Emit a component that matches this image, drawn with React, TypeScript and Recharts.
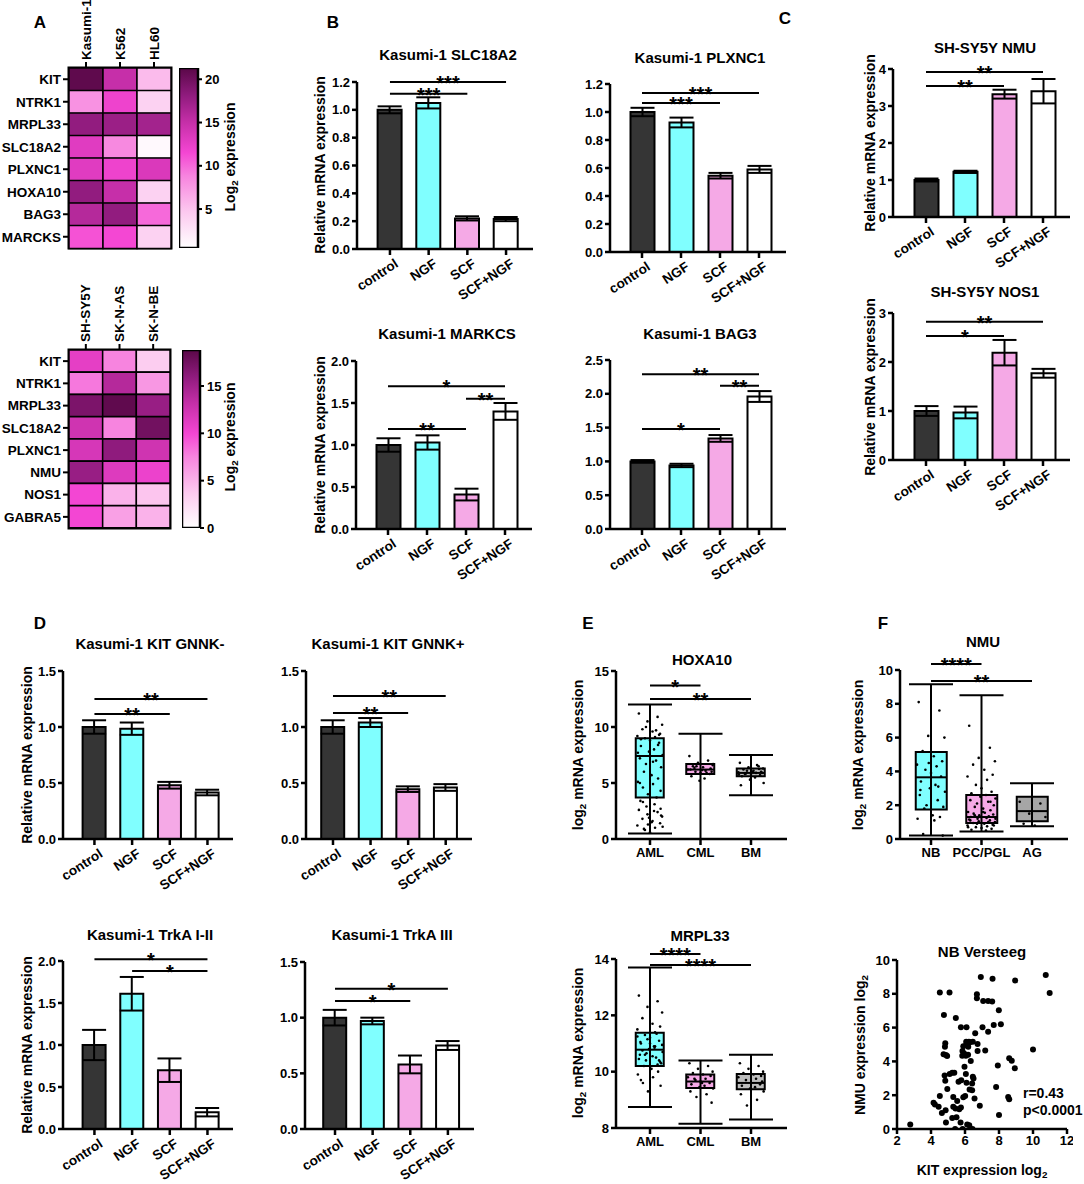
import React from 'react';
import {
  BarChart, Bar, XAxis, YAxis, ErrorBar, ReferenceLine, ReferenceArea,
  ComposedChart, Scatter, ScatterChart, Cell,
} from 'recharts';

const FONT = '"Liberation Sans", Arial, Helvetica, sans-serif';

// ---------- Panel A: heatmaps ----------
const hm1Rows = ['KIT', 'NTRK1', 'MRPL33', 'SLC18A2', 'PLXNC1', 'HOXA10', 'BAG3', 'MARCKS'];
const hm1Cols = ['Kasumi-1', 'K562', 'HL60'];
const hm1Kasumi = [21, 8, 18, 13, 13, 18, 16, 11];
const hm1K562 = [15, 12, 17.5, 8.5, 12, 15, 18, 11.5];
const hm1HL60 = [5.5, 4, 17, 1, 13.5, 4, 10, 4];
const hm1Ticks = [5, 10, 15, 20];

const hm2Rows = ['KIT', 'NTRK1', 'MRPL33', 'SLC18A2', 'PLXNC1', 'NMU', 'NOS1', 'GABRA5'];
const hm2Cols = ['SH-SY5Y', 'SK-N-AS', 'SK-N-BE'];
const hm2SHSY5Y = [11, 8, 17, 12.5, 12, 15.5, 10, 10];
const hm2SKNAS = [7.5, 14, 18.5, 7.5, 16, 11.5, 5, 6];
const hm2SKNBE = [3.5, 6.5, 15.5, 17.5, 12.5, 10.5, 4, 5];
const hm2Ticks = [0, 5, 10, 15];

// ---------- Bar panels ----------
const treatments = ['control', 'NGF', 'SCF', 'SCF+NGF'];
const treatmentColors = ['#353535', '#80ffff', '#f5a9e6', '#ffffff'];

const slc18a2Mean = [1.0, 1.05, 0.22, 0.215];
const slc18a2Err = [0.025, 0.04, 0.015, 0.015];
const plxnc1Mean = [1.0, 0.925, 0.545, 0.59];
const plxnc1Err = [0.03, 0.035, 0.02, 0.025];
const marcksMean = [1.0, 1.03, 0.41, 1.4];
const marcksErr = [0.08, 0.085, 0.07, 0.1];
const bag3Mean = [1.0, 0.94, 1.34, 1.96];
const bag3Err = [0.02, 0.025, 0.05, 0.08];
const nmuMean = [1.0, 1.22, 3.32, 3.4];
const nmuErr = [0.04, 0.03, 0.12, 0.33];
const nos1Mean = [1.0, 0.97, 2.19, 1.77];
const nos1Err = [0.1, 0.12, 0.26, 0.09];
const gnnkMinusMean = [1.0, 0.985, 0.48, 0.415];
const gnnkMinusErr = [0.06, 0.055, 0.03, 0.025];
const gnnkPlusMean = [1.0, 1.04, 0.445, 0.46];
const gnnkPlusErr = [0.06, 0.04, 0.025, 0.03];
const trkA12Mean = [1.0, 1.61, 0.7, 0.2];
const trkA12Err = [0.18, 0.2, 0.14, 0.05];
const trkA3Mean = [1.0, 0.97, 0.58, 0.75];
const trkA3Err = [0.07, 0.03, 0.08, 0.04];

const ticks12 = [0, 0.2, 0.4, 0.6, 0.8, 1.0, 1.2];
const ticks20 = [0, 0.5, 1.0, 1.5, 2.0];
const ticks25 = [0, 0.5, 1.0, 1.5, 2.0, 2.5];
const ticks15 = [0, 0.5, 1.0, 1.5];
const ticks4 = [0, 1, 2, 3, 4];
const ticks3 = [0, 1, 2, 3];

type Sig = { a: string; b: string; y: number; t: string };
const slc18a2Sig: Sig[] = [
  { a: 'control', b: 'SCF', y: 1.115, t: '***' },
  { a: 'control', b: 'SCF+NGF', y: 1.2, t: '***' },
];
const plxnc1Sig: Sig[] = [
  { a: 'control', b: 'SCF', y: 1.065, t: '***' },
  { a: 'control', b: 'SCF+NGF', y: 1.136, t: '***' },
];
const marcksSig: Sig[] = [
  { a: 'control', b: 'SCF', y: 1.19, t: '**' },
  { a: 'SCF', b: 'SCF+NGF', y: 1.55, t: '**' },
  { a: 'control', b: 'SCF+NGF', y: 1.7, t: '*' },
];
const bag3Sig: Sig[] = [
  { a: 'control', b: 'SCF', y: 1.48, t: '*' },
  { a: 'SCF', b: 'SCF+NGF', y: 2.12, t: '**' },
  { a: 'control', b: 'SCF+NGF', y: 2.29, t: '**' },
];
const nmuSig: Sig[] = [
  { a: 'control', b: 'SCF', y: 3.54, t: '**' },
  { a: 'control', b: 'SCF+NGF', y: 3.92, t: '**' },
];
const nos1Sig: Sig[] = [
  { a: 'control', b: 'SCF', y: 2.53, t: '*' },
  { a: 'control', b: 'SCF+NGF', y: 2.82, t: '**' },
];
const gnnkMinusSig: Sig[] = [
  { a: 'control', b: 'SCF', y: 1.116, t: '**' },
  { a: 'control', b: 'SCF+NGF', y: 1.25, t: '**' },
];
const gnnkPlusSig: Sig[] = [
  { a: 'control', b: 'SCF', y: 1.125, t: '**' },
  { a: 'control', b: 'SCF+NGF', y: 1.277, t: '**' },
];
const trkA12Sig: Sig[] = [
  { a: 'control', b: 'SCF+NGF', y: 2.02, t: '*' },
  { a: 'NGF', b: 'SCF+NGF', y: 1.88, t: '*' },
];
const trkA3Sig: Sig[] = [
  { a: 'control', b: 'SCF', y: 1.15, t: '*' },
  { a: 'control', b: 'SCF+NGF', y: 1.26, t: '*' },
];

// ---------- Box panels ----------
const leukGroups = ['AML', 'CML', 'BM'];
const leukColors = ['#80ffff', '#f5a9e6', '#bdbdbd'];
const hoxMin = [0.5, 0, 3.9];
const hoxQ1 = [3.7, 5.8, 5.6];
const hoxMed = [7.4, 6.2, 5.9];
const hoxQ3 = [9.0, 6.7, 6.3];
const hoxMax = [12.0, 9.4, 7.5];
const hoxAmlDots = [11.2, 10.9, 10.5, 10.2, 9.8, 9.6, 9.4, 9.2, 9.1, 9.0, 8.8, 8.6, 8.3, 8.0, 7.8, 7.5, 7.2, 7.0, 6.7, 6.4, 6.0, 5.7, 5.4, 5.1, 4.9, 4.6, 4.3, 4.0, 3.7, 3.4, 3.1, 2.9, 2.6, 2.4, 2.2, 2.0, 1.8, 1.6, 1.4, 1.2, 1.0, 0.8, 0.6, 9.3, 8.9, 2.5, 1.9, 1.1, 5.0, 9.7, 10.0, 2.1, 0.9, 1.5, 8.4, 7.7, 6.9, 3.3, 2.7, 1.3];
const hoxCmlDots = [7.4, 7.0, 6.8, 6.6, 6.5, 6.4, 6.3, 6.2, 6.1, 6.0, 5.9, 5.8, 5.6, 5.4, 5.2, 6.7, 6.2, 5.9, 6.5, 6.0, 6.35, 6.15];
const hoxBmDots = [6.8, 6.5, 6.4, 6.3, 6.2, 6.1, 6.0, 5.95, 5.9, 5.85, 5.8, 5.7, 5.6, 5.5, 5.3, 5.0, 4.8, 6.6, 6.1, 5.9, 5.8, 6.0, 6.25, 5.75];
const hoxSig: Sig[] = [
  { a: 'AML', b: 'CML', y: 13.7, t: '*' },
  { a: 'AML', b: 'BM', y: 12.5, t: '**' },
];

const mrpMin = [8.75, 8.15, 8.3];
const mrpQ1 = [10.2, 9.42, 9.38];
const mrpMed = [10.78, 9.65, 9.6];
const mrpQ3 = [11.38, 9.9, 9.92];
const mrpMax = [13.7, 10.4, 10.6];
const mrpAmlDots = [12.7, 12.5, 12.3, 12.1, 11.9, 11.7, 11.6, 11.5, 11.4, 11.3, 11.2, 11.1, 11.0, 10.9, 10.8, 10.7, 10.6, 10.5, 10.4, 10.3, 10.2, 10.1, 10.0, 9.9, 9.8, 9.6, 9.5, 9.3, 11.35, 11.05, 10.85, 10.65, 10.45, 10.25, 11.15, 10.95, 10.75, 10.55, 10.35, 11.25, 10.9, 10.6, 11.0, 10.4, 9.7];
const mrpCmlDots = [10.3, 10.2, 10.1, 10.0, 9.95, 9.9, 9.85, 9.8, 9.75, 9.7, 9.65, 9.6, 9.55, 9.5, 9.45, 9.4, 9.3, 9.2, 9.1, 8.9, 9.75, 9.6];
const mrpBmDots = [10.3, 10.2, 10.1, 10.0, 9.95, 9.9, 9.85, 9.8, 9.75, 9.7, 9.6, 9.55, 9.5, 9.45, 9.4, 9.3, 9.2, 9.0, 8.8, 9.65];
const mrpSig: Sig[] = [
  { a: 'AML', b: 'CML', y: 14.18, t: '****' },
  { a: 'AML', b: 'BM', y: 13.79, t: '****' },
];

const nbGroups = ['NB', 'PCC/PGL', 'AG'];
const nbColors = ['#80ffff', '#f5a9e6', '#a6a6a6'];
const nmuBoxMin = [0.2, 0.45, 0.75];
const nmuBoxQ1 = [1.75, 0.95, 1.05];
const nmuBoxMed = [3.65, 1.3, 1.65];
const nmuBoxQ3 = [5.15, 2.6, 2.5];
const nmuBoxMax = [9.15, 8.5, 3.3];
const nmuNbDots = [8.1, 7.6, 6.1, 6.0, 5.2, 4.9, 4.6, 4.4, 4.3, 4.1, 3.9, 3.7, 3.4, 3.2, 3.0, 2.8, 2.6, 2.3, 2.0, 1.9, 1.8, 1.4, 1.3, 1.2, 1.1, 0.3, 0.2, 4.5, 3.1, 2.9];
const nmuPccDots = [6.7, 5.4, 4.8, 4.6, 4.4, 4.1, 3.8, 3.7, 3.5, 3.2, 3.0, 2.8, 2.7, 2.6, 2.5, 2.4, 2.3, 2.2, 2.1, 2.0, 1.9, 1.8, 1.7, 1.6, 1.55, 1.5, 1.45, 1.4, 1.35, 1.3, 1.25, 1.2, 1.15, 1.1, 1.05, 1.0, 0.95, 0.9, 0.85, 0.8, 0.75, 0.7, 0.65, 0.6, 0.55, 0.5, 1.3, 1.2, 1.1, 1.0, 0.9, 0.8, 1.4, 1.6, 2.2, 0.7];
const nmuAgDots = [2.2, 2.1, 1.5, 1.3, 0.9, 0.8];
const nmuBoxSig: Sig[] = [
  { a: 'NB', b: 'PCC/PGL', y: 10.36, t: '****' },
  { a: 'NB', b: 'AG', y: 9.35, t: '**' },
];

const jitter = [-0.22, 0.15, -0.05, 0.24, -0.15, 0.05, 0.2, -0.25, 0.1, -0.1, 0.0, 0.18, -0.18, 0.08, -0.02, 0.25, -0.2, 0.12, -0.08, 0.22, -0.12, 0.03, 0.16, -0.24, 0.06, -0.14, 0.21, -0.04, 0.13, -0.19, 0.09, -0.07];

// ---------- Scatter (NB Versteeg) ----------
const kitExpr = [2.78, 4.52, 4.76, 5.46, 5.09, 6.93, 7.62, 8.95, 10.75, 10.98, 6.7, 6.7, 7.07, 7.36, 7.6, 7.99, 7.69, 8.11, 7.03, 7.36, 5.76, 6.09, 6.6, 6.07, 6.23, 6.09, 6.29, 6.46, 6.74, 6.19, 5.9, 5.85, 5.95, 6.74, 7.19, 6.05, 5.84, 6.18, 6.34, 4.84, 4.82, 4.74, 4.88, 4.95, 10.0, 8.6, 8.75, 7.93, 8.93, 5.97, 5.25, 5.37, 5.1, 4.8, 6.05, 6.46, 6.5, 5.78, 5.62, 4.84, 4.96, 6.09, 6.42, 6.27, 6.42, 7.83, 6.01, 5.9, 6.56, 4.52, 5.31, 5.54, 4.15, 4.23, 4.45, 4.86, 4.64, 5.31, 5.44, 5.66, 5.76, 6.87, 8.54, 8.6, 8.0, 4.88, 5.25, 5.5, 5.74, 6.13, 6.25, 5.42, 5.86, 6.44];
const nmuExpr = [0.26, 8.08, 6.75, 6.57, 8.08, 8.99, 8.89, 8.79, 9.11, 8.04, 7.98, 7.74, 7.58, 7.58, 7.54, 7.03, 6.16, 6.2, 6.02, 5.76, 6.02, 6.02, 5.66, 5.17, 5.17, 5.03, 5.13, 5.17, 5.03, 4.87, 4.9, 4.61, 4.47, 4.61, 4.65, 4.34, 4.34, 4.4, 4.02, 5.07, 4.87, 4.42, 4.38, 4.32, 4.71, 4.18, 4.04, 3.76, 3.6, 3.68, 3.33, 3.33, 3.25, 3.17, 3.25, 3.09, 2.99, 2.89, 2.79, 2.85, 2.36, 2.73, 2.69, 2.34, 2.3, 2.49, 1.96, 1.88, 1.8, 1.96, 1.9, 1.66, 1.56, 1.45, 1.31, 1.11, 0.95, 1.31, 1.21, 1.17, 1.27, 1.37, 1.9, 1.76, 0.83, 0.38, 0.65, 0.69, 0.38, 0.26, 0.22, 0.0, 0.0, 0.0];
const scatterXTicks = [2, 4, 6, 8, 10, 12];
const scatterYTicks = [0, 2, 4, 6, 8, 10];

// ---------- helpers ----------
const colorStops: [number, string][] = [
  [0, '#ffffff'], [0.2, '#fcc9ef'], [0.4, '#f784df'], [0.53, '#f446d3'],
  [0.7, '#c52fa8'], [0.85, '#8f1b7d'], [1, '#5a0848'],
];
function hexToRgb(h: string) {
  const n = parseInt(h.slice(1), 16);
  return [(n >> 16) & 255, (n >> 8) & 255, n & 255];
}
function heatColor(v: number, vmin: number, vmax: number) {
  let t = (v - vmin) / (vmax - vmin);
  t = Math.max(0, Math.min(1, t));
  for (let i = 0; i < colorStops.length - 1; i++) {
    const [t0, c0] = colorStops[i];
    const [t1, c1] = colorStops[i + 1];
    if (t <= t1) {
      const f = (t - t0) / (t1 - t0);
      const a = hexToRgb(c0), b = hexToRgb(c1);
      const c = a.map((x, k) => Math.round(x + (b[k] - x) * f));
      return `rgb(${c[0]},${c[1]},${c[2]})`;
    }
  }
  return colorStops[colorStops.length - 1][1];
}

const axisStyle = { stroke: '#000', strokeWidth: 2.5 };
const tickFont = { fill: '#000', fontSize: 13, fontWeight: 'bold', fontFamily: FONT };
const sigLabel = (t: string) => ({ value: t, position: 'top' as const, offset: -8, fill: '#000', fontSize: 20, fontWeight: 'bold', fontFamily: FONT });

const RotTick = (p: any) => {
  const { x, y, payload } = p;
  const ax = x + 4, ay = y + 1;
  return (
    <text x={ax} y={ay} textAnchor="end" dominantBaseline="hanging" transform={`rotate(-33, ${ax}, ${ay})`}
      fontSize={13.5} fontWeight="bold" fontFamily={FONT} fill="#000">{payload.value}</text>
  );
};

function T({ x, y, children, size = 15, rot = false, left = false }: any) {
  return (
    <div style={{
      position: 'absolute', left: x, top: y,
      transform: `${left ? 'translate(0,-50%)' : 'translate(-50%,-50%)'}${rot ? ' rotate(-90deg)' : ''}`,
      whiteSpace: 'nowrap', fontFamily: FONT, fontWeight: 'bold', fontSize: size, lineHeight: 1, color: '#000',
    }}>{children}</div>
  );
}
const Sub2 = () => <sub style={{ fontSize: '0.7em', verticalAlign: '-0.3em', lineHeight: 0 }}>2</sub>;

function BarPanel({ mean, err, domain, ticks, dec, x0, x1, yTop, yBot, padL, padR, sigs, barSize = 24 }: any) {
  const YW = 40, MT = 30, XH = 70, MR = 4;
  const data = treatments.map((t, i) => ({ name: t, v: mean[i], e: err[i] }));
  return (
    <div style={{ position: 'absolute', left: x0 - YW, top: yTop - MT }}>
      <BarChart width={x1 - x0 + YW + MR} height={MT + yBot - yTop + XH} data={data}
        margin={{ top: MT, right: MR, left: 0, bottom: 0 }}>
        <XAxis dataKey="name" height={XH} interval={0} padding={{ left: padL, right: padR }}
          axisLine={axisStyle} tickLine={axisStyle} tickSize={6} tick={RotTick} />
        <YAxis width={YW} domain={domain} ticks={ticks} interval={0} allowDataOverflow
          tickFormatter={(v: number) => v.toFixed(dec)} axisLine={axisStyle} tickLine={axisStyle}
          tickSize={5} tickMargin={2} tick={tickFont} />
        <Bar dataKey="v" barSize={barSize} stroke="#000" strokeWidth={2} isAnimationActive={false}>
          {data.map((d, i) => <Cell key={i} fill={treatmentColors[i]} />)}
          <ErrorBar dataKey="e" width={12} stroke="#000" strokeWidth={2} direction="y" />
        </Bar>
        {sigs.map((s: Sig, i: number) => (
          <ReferenceLine key={i} segment={[{ x: s.a, y: s.y }, { x: s.b, y: s.y }]} stroke="#000" strokeWidth={2}
            ifOverflow="visible" label={sigLabel(s.t)} />
        ))}
      </BarChart>
    </div>
  );
}

function BoxPanel({ groups, colors, mins, q1, med, q3, maxs, dots, domain, ticks, x0, x1, yTop, yBot, padL, padR, sigs, barSize = 28 }: any) {
  const YW = 40, MT = 30, XH = 30, MR = 4;
  const boxData = groups.map((g: string, i: number) => ({
    name: g, box: [q1[i], q3[i]], med: med[i], whisk: [med[i] - mins[i], maxs[i] - med[i]],
  }));
  const dotData: { x: number; y: number }[] = [];
  dots.forEach((arr: number[], gi: number) => {
    arr.forEach((v, k) => dotData.push({ x: gi + 1 + jitter[k % jitter.length] * (barSize / 28), y: v }));
  });
  const half = barSize / 2;
  return (
    <div style={{ position: 'absolute', left: x0 - YW, top: yTop - MT }}>
      <ComposedChart width={x1 - x0 + YW + MR} height={MT + yBot - yTop + XH} data={boxData}
        margin={{ top: MT, right: MR, left: 0, bottom: 0 }}>
        <XAxis xAxisId="cat" dataKey="name" interval={0} height={XH} padding={{ left: padL, right: padR }}
          axisLine={axisStyle} tickLine={axisStyle} tickSize={6} tickMargin={3} tick={tickFont} />
        <XAxis xAxisId="num" type="number" dataKey="x" domain={[0.5, 3.5]} allowDataOverflow hide
          padding={{ left: padL, right: padR }} />
        <YAxis type="number" width={YW} domain={domain} ticks={ticks} interval={0} allowDataOverflow
          axisLine={axisStyle} tickLine={axisStyle} tickSize={5} tickMargin={2} tick={tickFont} />
        <Scatter xAxisId="cat" dataKey="med" isAnimationActive={false} shape={() => <g />}>
          <ErrorBar dataKey="whisk" direction="y" width={22} stroke="#000" strokeWidth={2} />
        </Scatter>
        <Bar xAxisId="cat" dataKey="box" barSize={barSize} stroke="#000" strokeWidth={2} isAnimationActive={false}>
          {boxData.map((d: any, i: number) => <Cell key={i} fill={colors[i]} />)}
        </Bar>
        <Scatter xAxisId="num" data={dotData} dataKey="y" isAnimationActive={false}
          shape={(p: any) => <circle cx={p.cx} cy={p.cy} r={1.3} fill="#000" />} />
        <Scatter xAxisId="cat" dataKey="med" isAnimationActive={false}
          shape={(p: any) => <line x1={p.cx - half} x2={p.cx + half} y1={p.cy} y2={p.cy} stroke="#000" strokeWidth={2} />} />
        {sigs.map((s: Sig, i: number) => (
          <ReferenceLine key={i} xAxisId="cat" segment={[{ x: s.a, y: s.y }, { x: s.b, y: s.y }]} stroke="#000" strokeWidth={2}
            ifOverflow="visible" label={sigLabel(s.t)} />
        ))}
      </ComposedChart>
    </div>
  );
}

function Heatmap({ rows, cols, columns, vmin, vmax, gx, gy, gw, gh }: any) {
  const YW = 68, XH = 75;
  const data = rows.map((r: string) => ({ name: r, c0: 1, c1: 1, c2: 1 }));
  const TopTick = (p: any) => (
    <text x={p.x} y={p.y} transform={`rotate(-90, ${p.x}, ${p.y})`} textAnchor="start" dominantBaseline="central"
      fontSize={13.5} fontWeight="bold" fontFamily={FONT} fill="#000">{cols[Math.floor(p.payload.value)]}</text>
  );
  return (
    <div style={{ position: 'absolute', left: gx - YW, top: gy - XH }}>
      <BarChart layout="vertical" width={YW + gw + 4} height={XH + gh + 4} data={data} barCategoryGap={0}
        margin={{ top: 0, right: 4, left: 0, bottom: 4 }}>
        <XAxis type="number" orientation="top" domain={[0, 3]} ticks={[0.5, 1.5, 2.5]} interval={0} height={XH}
          axisLine={false} tickLine={{ stroke: '#000', strokeWidth: 2 }} tickSize={6} tickMargin={2} tick={TopTick} />
        <YAxis type="category" dataKey="name" width={YW} axisLine={false}
          tickLine={{ stroke: '#000', strokeWidth: 2 }} tickSize={6} tickMargin={2}
          tick={{ fill: '#000', fontSize: 13.5, fontWeight: 'bold', fontFamily: FONT }} />
        {[0, 1, 2].map((c) => (
          <Bar key={c} dataKey={`c${c}`} stackId="s" stroke="#000" strokeWidth={1.5} isAnimationActive={false}>
            {rows.map((r: string, i: number) => <Cell key={i} fill={heatColor(columns[c][i], vmin, vmax)} />)}
          </Bar>
        ))}
        <ReferenceArea x1={0} x2={3} y1={rows[0]} y2={rows[rows.length - 1]} fill="none" fillOpacity={0}
          stroke="#000" strokeWidth={3} ifOverflow="visible" />
      </BarChart>
    </div>
  );
}

function ColorBar({ x, yTop, yBot, w, vmin, vmax, ticks, id }: any) {
  const YWR = 32, M = 8;
  return (
    <div style={{ position: 'absolute', left: x, top: yTop - M }}>
      <BarChart width={w + YWR} height={yBot - yTop + 2 * M} data={[{ n: 'c', v: [vmin, vmax] }]}
        margin={{ top: M, bottom: M, left: 0, right: 0 }} barCategoryGap={0}>
        <defs>
          <linearGradient id={id} x1="0" y1="1" x2="0" y2="0">
            {colorStops.map(([t, c], i) => <stop key={i} offset={t} stopColor={c} />)}
          </linearGradient>
        </defs>
        <XAxis dataKey="n" hide />
        <YAxis orientation="right" width={YWR} domain={[vmin, vmax]} ticks={ticks} interval={0} allowDataOverflow
          axisLine={false} tickLine={{ stroke: '#000', strokeWidth: 2 }} tickSize={4} tickMargin={3} tick={tickFont} />
        <Bar dataKey="v" fill={`url(#${id})`} stroke="#000" strokeWidth={2.5} isAnimationActive={false} />
      </BarChart>
    </div>
  );
}

export default function App() {
  const scatterData = kitExpr.map((k, i) => ({ x: k, y: nmuExpr[i] }));
  return (
    <div style={{ position: 'absolute', left: 0, top: 0, width: 1084, height: 1184, background: '#fff', overflow: 'hidden' }}>
      {/* Panel letters */}
      <T x={40} y={22} size={17}>A</T>
      <T x={333} y={22} size={17}>B</T>
      <T x={785} y={18} size={17}>C</T>
      <T x={40} y={623} size={17}>D</T>
      <T x={588} y={623} size={17}>E</T>
      <T x={883} y={623} size={17}>F</T>

      {/* A */}
      <Heatmap rows={hm1Rows} cols={hm1Cols} columns={[hm1Kasumi, hm1K562, hm1HL60]} vmin={0.5} vmax={21.3}
        gx={69} gy={68} gw={102} gh={180} />
      <ColorBar x={179} yTop={68} yBot={248} w={19} vmin={0.5} vmax={21.3} ticks={hm1Ticks} id="grad1" />
      <T x={230} y={157} size={14} rot>Log<Sub2 /> expression</T>

      <Heatmap rows={hm2Rows} cols={hm2Cols} columns={[hm2SHSY5Y, hm2SKNAS, hm2SKNBE]} vmin={0} vmax={18.8}
        gx={69} gy={350} gw={101} gh={178} />
      <ColorBar x={182} yTop={350} yBot={528} w={18} vmin={0} vmax={18.8} ticks={hm2Ticks} id="grad2" />
      <T x={230} y={437} size={14} rot>Log<Sub2 /> expression</T>

      {/* B */}
      <T x={448} y={54}>Kasumi-1 SLC18A2</T>
      <T x={320} y={165} size={14} rot>Relative mRNA expression</T>
      <BarPanel mean={slc18a2Mean} err={slc18a2Err} domain={[0, 1.2]} ticks={ticks12} dec={1}
        x0={357} x1={533} yTop={82} yBot={249} padL={13.6} padR={7.6} sigs={slc18a2Sig} />
      <T x={700} y={57}>Kasumi-1 PLXNC1</T>
      <BarPanel mean={plxnc1Mean} err={plxnc1Err} domain={[0, 1.2]} ticks={ticks12} dec={1}
        x0={610} x1={786} yTop={84} yBot={252} padL={12.5} padR={7.5} sigs={plxnc1Sig} />

      <T x={447} y={333}>Kasumi-1 MARKCS</T>
      <T x={320} y={445} size={14} rot>Relative mRNA expression</T>
      <BarPanel mean={marcksMean} err={marcksErr} domain={[0, 2]} ticks={ticks20} dec={1}
        x0={356} x1={532} yTop={361} yBot={529} padL={12.5} padR={7.5} sigs={marcksSig} />
      <T x={700} y={333}>Kasumi-1 BAG3</T>
      <BarPanel mean={bag3Mean} err={bag3Err} domain={[0, 2.5]} ticks={ticks25} dec={1}
        x0={610} x1={786} yTop={360} yBot={529} padL={12.5} padR={7.5} sigs={bag3Sig} />

      {/* C */}
      <T x={985} y={47}>SH-SY5Y NMU</T>
      <T x={870} y={143} size={14} rot>Relative mRNA expression</T>
      <BarPanel mean={nmuMean} err={nmuErr} domain={[0, 4]} ticks={ticks4} dec={0}
        x0={893} x1={1070} yTop={69} yBot={217} padL={13.5} padR={7.5} sigs={nmuSig} />
      <T x={985} y={291}>SH-SY5Y NOS1</T>
      <T x={870} y={387} size={14} rot>Relative mRNA expression</T>
      <BarPanel mean={nos1Mean} err={nos1Err} domain={[0, 3]} ticks={ticks3} dec={0}
        x0={893} x1={1070} yTop={313} yBot={460} padL={13.5} padR={7.5} sigs={nos1Sig} />

      {/* D */}
      <T x={150} y={643}>Kasumi-1 KIT GNNK-</T>
      <T x={27} y={755} size={14} rot>Relative mRNA expression</T>
      <BarPanel mean={gnnkMinusMean} err={gnnkMinusErr} domain={[0, 1.5]} ticks={ticks15} dec={1}
        x0={63} x1={233} yTop={671} yBot={839} padL={12.6} padR={6.7} sigs={gnnkMinusSig} barSize={23} />
      <T x={388} y={643}>Kasumi-1 KIT GNNK+</T>
      <BarPanel mean={gnnkPlusMean} err={gnnkPlusErr} domain={[0, 1.5]} ticks={ticks15} dec={1}
        x0={306} x1={472} yTop={671} yBot={839} padL={8.2} padR={7.5} sigs={gnnkPlusSig} barSize={23} />

      <T x={150} y={934}>Kasumi-1 TrkA I-II</T>
      <T x={27} y={1045} size={14} rot>Relative mRNA expression</T>
      <BarPanel mean={trkA12Mean} err={trkA12Err} domain={[0, 2]} ticks={ticks20} dec={1}
        x0={63} x1={233} yTop={961} yBot={1129} padL={12.6} padR={6.7} sigs={trkA12Sig} barSize={23} />
      <T x={392} y={934}>Kasumi-1 TrkA III</T>
      <BarPanel mean={trkA3Mean} err={trkA3Err} domain={[0, 1.5]} ticks={ticks15} dec={1}
        x0={305} x1={474} yTop={962} yBot={1129} padL={11.2} padR={7.3} sigs={trkA3Sig} barSize={23} />

      {/* E */}
      <T x={702} y={659}>HOXA10</T>
      <T x={578} y={755} size={14} rot>log<Sub2 /> mRNA expression</T>
      <BoxPanel groups={leukGroups} colors={leukColors} mins={hoxMin} q1={hoxQ1} med={hoxMed} q3={hoxQ3} maxs={hoxMax}
        dots={[hoxAmlDots, hoxCmlDots, hoxBmDots]} domain={[0, 15]} ticks={[0, 5, 10, 15]}
        x0={616} x1={787} yTop={671} yBot={839} padL={8.75} padR={10.75} sigs={hoxSig} />
      <T x={700} y={935}>MRPL33</T>
      <T x={578} y={1043} size={14} rot>log<Sub2 /> mRNA expression</T>
      <BoxPanel groups={leukGroups} colors={leukColors} mins={mrpMin} q1={mrpQ1} med={mrpMed} q3={mrpQ3} maxs={mrpMax}
        dots={[mrpAmlDots, mrpCmlDots, mrpBmDots]} domain={[8, 14]} ticks={[8, 10, 12, 14]}
        x0={616} x1={787} yTop={959} yBot={1128} padL={8.75} padR={10.75} sigs={mrpSig} />

      {/* F */}
      <T x={983} y={641}>NMU</T>
      <T x={858} y={755} size={14} rot>log<Sub2 /> mRNA expression</T>
      <BoxPanel groups={nbGroups} colors={nbColors} mins={nmuBoxMin} q1={nmuBoxQ1} med={nmuBoxMed} q3={nmuBoxQ3} maxs={nmuBoxMax}
        dots={[nmuNbDots, nmuPccDots, nmuAgDots]} domain={[0, 10]} ticks={[0, 2, 4, 6, 8, 10]}
        x0={900} x1={1068} yTop={670} yBot={839} padL={5.75} padR={10.75} sigs={nmuBoxSig} barSize={31} />

      <T x={982} y={951}>NB Versteeg</T>
      <T x={860} y={1045} size={14} rot>NMU expression log<Sub2 /></T>
      <T x={982} y={1170} size={14}>KIT expression log<Sub2 /></T>
      <T x={1023} y={1093} size={14} left>r=0.43</T>
      <T x={1023} y={1110} size={14} left>p&lt;0.0001</T>
      <div style={{ position: 'absolute', left: 897 - 40, top: 960 - 10 }}>
        <ScatterChart width={1067 - 897 + 40 + 6} height={10 + 1129 - 960 + 30}
          margin={{ top: 10, right: 6, left: 0, bottom: 0 }}>
          <XAxis type="number" dataKey="x" domain={[2, 12]} ticks={scatterXTicks} interval={0} allowDataOverflow height={30}
            axisLine={axisStyle} tickLine={axisStyle} tickSize={5} tickMargin={2} tick={tickFont} />
          <YAxis type="number" dataKey="y" domain={[0, 10]} ticks={scatterYTicks} interval={0} allowDataOverflow width={40}
            axisLine={axisStyle} tickLine={axisStyle} tickSize={5} tickMargin={2} tick={tickFont} />
          <Scatter data={scatterData} isAnimationActive={false}
            shape={(p: any) => <circle cx={p.cx} cy={p.cy} r={3} fill="#000" />} />
        </ScatterChart>
      </div>
    </div>
  );
}
